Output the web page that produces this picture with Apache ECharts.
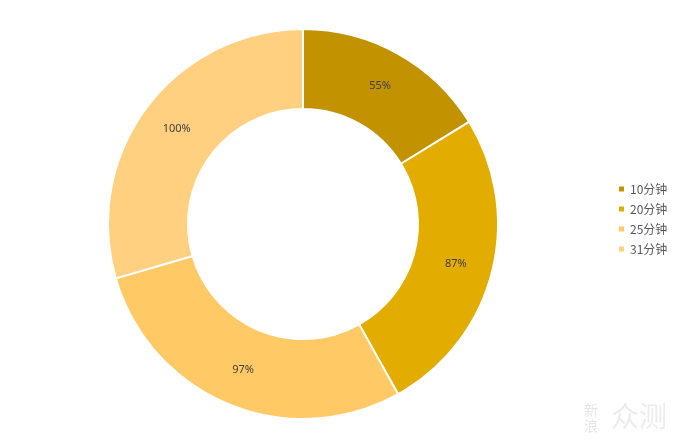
<!DOCTYPE html>
<html><head><meta charset="utf-8">
<script src="https://cdn.jsdelivr.net/npm/echarts@6/dist/echarts.min.js"></script>
<style>html,body{margin:0;padding:0;background:#fff}#c{width:674px;height:448px}</style>
</head><body><div id="c"></div>
<script>
const categories = ['10分钟', '20分钟', '25分钟', '31分钟'];
const values = [55, 87, 97, 100];
const colors = ['#C29200', '#E2AC00', '#FFC966', '#FFD07F'];
const chart = echarts.init(document.getElementById('c'));
chart.setOption({
  animation: false,
  legend: {
    orient: 'vertical', left: 612, top: 178, itemWidth: 7, itemHeight: 7, itemGap: 8,
    icon: 'rect',
    textStyle: { fontFamily: 'Noto Sans CJK SC', fontSize: 12, color: '#595959' },
    data: categories
  },
  graphic: [
    { type: 'text', left: 584, top: 402,
      style: { text: '新\n浪', fontSize: 14, lineHeight: 16, fontFamily: 'Noto Sans CJK SC', fill: 'rgba(200,200,200,0.45)' } },
    { type: 'text', left: 611, top: 402,
      style: { text: '众测', fontSize: 28, fontFamily: 'Noto Sans CJK SC', fill: 'rgba(200,200,200,0.35)' } }
  ],
  series: [{
    type: 'pie', center: [303, 224], radius: [115, 195], startAngle: 90, clockwise: true,
    itemStyle: { borderColor: '#fff', borderWidth: 2 },
    label: { show: true, position: 'inside', formatter: p => p.value + '%', color: '#404040', fontSize: 11, fontFamily: 'Noto Sans' },
    labelLine: { show: false },
    data: categories.map((c, i) => ({ name: c, value: values[i], itemStyle: { color: colors[i] } }))
  }]
});
</script></body></html>
